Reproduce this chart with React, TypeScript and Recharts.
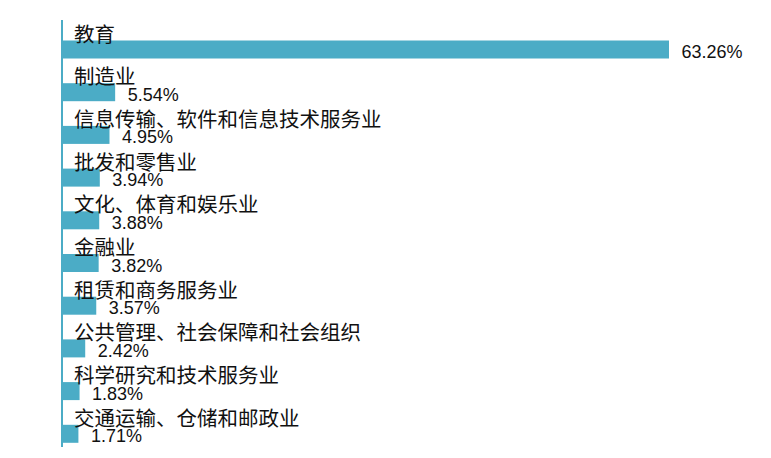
import { BarChart, Bar, XAxis, YAxis, LabelList } from "recharts";

const industries = [
  "教育",
  "制造业",
  "信息传输、软件和信息技术服务业",
  "批发和零售业",
  "文化、体育和娱乐业",
  "金融业",
  "租赁和商务服务业",
  "公共管理、社会保障和社会组织",
  "科学研究和技术服务业",
  "交通运输、仓储和邮政业",
];

const shares = [63.26, 5.54, 4.95, 3.94, 3.88, 3.82, 3.57, 2.42, 1.83, 1.71];

const BAR_COLOR = "#4BACC6";
const BAR_SHIFT = 8.5;

const chartData = industries.map((name, i) => ({ name, share: shares[i] }));

// bar sits in the lower part of its band, label takes the top part
const ShiftedBar = (props: any) => {
  const { x, y, width, height } = props;
  return <rect x={x} y={y + BAR_SHIFT} width={width} height={height} fill={BAR_COLOR} />;
};

const NameLabel = (props: any) => {
  const { x, y, height, value } = props;
  return (
    <text
      x={x + 12}
      y={y + height / 2 - 8.5}
      dominantBaseline="central"
      fontSize={20.5}
      fontFamily="'Noto Sans CJK SC', sans-serif"
      fill="#111"
    >
      {value}
    </text>
  );
};

const ShareLabel = (props: any) => {
  const { x, y, width, height, value } = props;
  return (
    <text
      x={x + width + 12.5}
      y={y + height / 2 + BAR_SHIFT + 2.5}
      dominantBaseline="central"
      fontSize={18}
      fontFamily="'Liberation Sans', Arial, sans-serif"
      fill="#111"
    >
      {`${Number(value).toFixed(2)}%`}
    </text>
  );
};

export default function App() {
  return (
    <BarChart
      width={755}
      height={442}
      data={chartData}
      layout="vertical"
      margin={{ top: 12, right: 94, bottom: 3, left: 52 }}
    >
      <XAxis type="number" hide domain={[0, "dataMax"]} />
      <YAxis
        type="category"
        dataKey="name"
        width={2}
        tick={false}
        tickLine={false}
        axisLine={{ stroke: BAR_COLOR, strokeWidth: 2 }}
      />
      <Bar dataKey="share" barSize={18} shape={<ShiftedBar />} isAnimationActive={false}>
        <LabelList dataKey="name" content={<NameLabel />} />
        <LabelList dataKey="share" content={<ShareLabel />} />
      </Bar>
    </BarChart>
  );
}
